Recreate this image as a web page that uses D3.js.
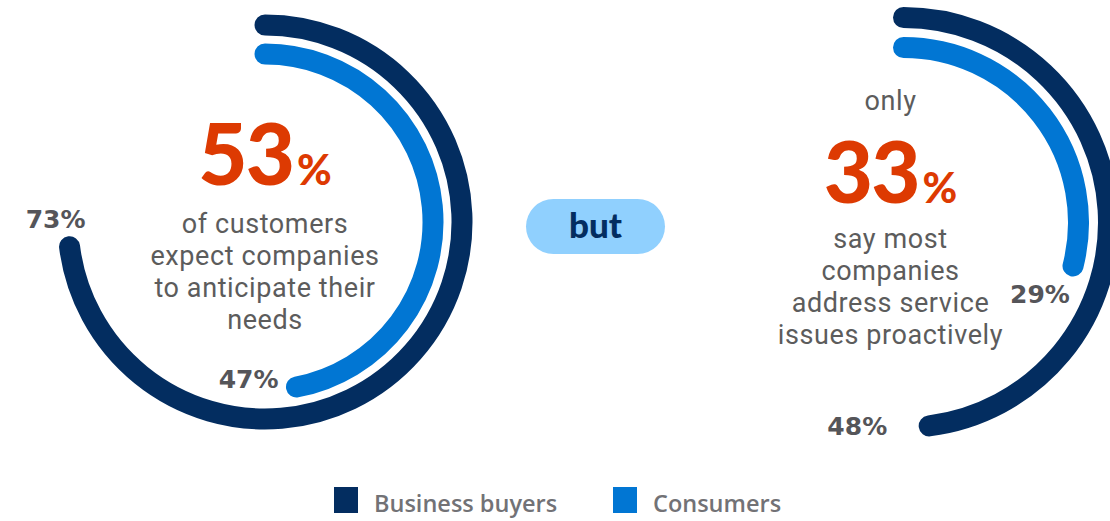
<!DOCTYPE html>
<html>
<head>
<meta charset="utf-8">
<script src="https://cdn.jsdelivr.net/npm/d3@7"></script>
<style>
  body { margin: 0; background: #fff; }
  svg { display: block; }
</style>
</head>
<body>
<svg width="1110" height="521"></svg>
<script>
// data
var seriesNames = ["Business buyers", "Consumers"];
var seriesColors = ["#032d60", "#0176d3"];
var businessValues = [73, 48];
var consumerValues = [47, 29];
var headlineValues = [53, 33];
var headlineIntro = ["", "only"];
var captions = [
  ["of customers", "expect companies", "to anticipate their", "needs"],
  ["say most", "companies", "address service", "issues proactively"]
];
var joinWord = "but";

var svg = d3.select("svg"),
    width = +svg.attr("width"),
    height = +svg.attr("height");

var red = "#dd3a02",
    grey = "#5c5c5c",
    labelGrey = "#555559";

// layout for the two rings
var charts = [
  { cx: 265, cy: 222, outerR: 197, innerR: 168, textX: 0, numY: 185, textY: 233, introY: null,
    labelOff: [[-14, -19, "middle"], [-18, 1, "end"]] },
  { cx: 903.5, cy: 222.5, outerR: 205, innerR: 175, textX: -13, numY: 203, textY: 248, introY: 110,
    labelOff: [[-42, 9, "end"], [-33, 37, "middle"]] }
];
var bandW = 21;

var angle = d3.scaleLinear().domain([0, 100]).range([0, 2 * Math.PI]);

// centre line of a ring, drawn clockwise from 12 o'clock
function ringPath(d) {
  var p = d3.path();
  var a0 = -Math.PI / 2, a1 = angle(d.value) - Math.PI / 2;
  p.moveTo(d.r * Math.cos(a0), d.r * Math.sin(a0));
  p.arc(0, 0, d.r, a0, a1);
  return p.toString();
}

charts.forEach(function(c, i) {
  var g = svg.append("g").attr("transform", "translate(" + c.cx + "," + c.cy + ")");

  var rings = [
    { r: c.outerR, value: businessValues[i], color: seriesColors[0] },
    { r: c.innerR, value: consumerValues[i], color: seriesColors[1] }
  ];

  g.selectAll("path.ring")
    .data(rings)
    .enter().append("path")
    .attr("class", "ring")
    .attr("d", ringPath)
    .attr("fill", "none")
    .attr("stroke", function(d) { return d.color; })
    .attr("stroke-width", bandW)
    .attr("stroke-linecap", "round");

  // end labels
  g.selectAll("text.endlabel")
    .data(rings)
    .enter().append("text")
    .attr("class", "endlabel")
    .attr("x", function(d, k) { return Math.sin(angle(d.value)) * d.r + c.labelOff[k][0]; })
    .attr("y", function(d, k) { return -Math.cos(angle(d.value)) * d.r + c.labelOff[k][1]; })
    .attr("text-anchor", function(d, k) { return c.labelOff[k][2]; })
    .attr("font-family", "'DejaVu Sans', sans-serif")
    .attr("font-weight", 700)
    .attr("font-size", 25)
    .attr("fill", labelGrey)
    .text(function(d) { return d.value + "%"; });

  if (headlineIntro[i]) {
    g.append("text")
      .attr("x", c.textX)
      .attr("y", c.introY - c.cy)
      .attr("text-anchor", "middle")
      .attr("font-family", "Roboto, sans-serif")
      .attr("font-size", 27)
      .attr("letter-spacing", 0.6)
      .attr("fill", grey)
      .text(headlineIntro[i]);
  }

  var big = g.append("text")
    .attr("x", c.textX)
    .attr("y", c.numY - c.cy)
    .attr("text-anchor", "middle")
    .attr("font-family", "Lato, sans-serif")
    .attr("font-weight", 900)
    .attr("fill", red);
  big.append("tspan").attr("font-size", 85).attr("letter-spacing", -2).text(headlineValues[i]);
  big.append("tspan").attr("font-size", 42).attr("dx", 4).text("%");

  // caption lines
  g.append("g").selectAll("text")
    .data(captions[i])
    .enter().append("text")
    .attr("x", c.textX)
    .attr("y", function(d, k) { return c.textY - c.cy + k * 32; })
    .attr("text-anchor", "middle")
    .attr("font-family", "Roboto, sans-serif")
    .attr("font-size", 27)
    .attr("letter-spacing", 0.6)
    .attr("fill", grey)
    .text(function(d) { return d; });
});

// "but" pill
var pill = svg.append("g").attr("transform", "translate(595.5,226.5)");
pill.append("rect")
  .attr("x", -69.5).attr("y", -27.5)
  .attr("width", 139).attr("height", 55)
  .attr("rx", 27.5)
  .attr("fill", "#90d0fe");
pill.append("text")
  .attr("y", 11)
  .attr("text-anchor", "middle")
  .attr("font-family", "Lato, sans-serif")
  .attr("font-weight", 900)
  .attr("font-size", 35)
  .attr("fill", "#032d60")
  .text(joinWord);

// legend
var legendX = d3.scalePoint().domain(seriesNames).range([334, 613]);
var legend = svg.append("g").selectAll("g")
  .data(seriesNames)
  .enter().append("g")
  .attr("transform", function(d) { return "translate(" + legendX(d) + ",487)"; });
legend.append("rect")
  .attr("width", 24).attr("height", 26)
  .attr("fill", function(d, i) { return seriesColors[i]; });
legend.append("text")
  .attr("x", 40).attr("y", 25)
  .attr("font-family", "'Open Sans', sans-serif")
  .attr("font-weight", 600)
  .attr("font-size", 23.5)
  .attr("fill", "#727276")
  .text(function(d) { return d; });
</script>
</body>
</html>
